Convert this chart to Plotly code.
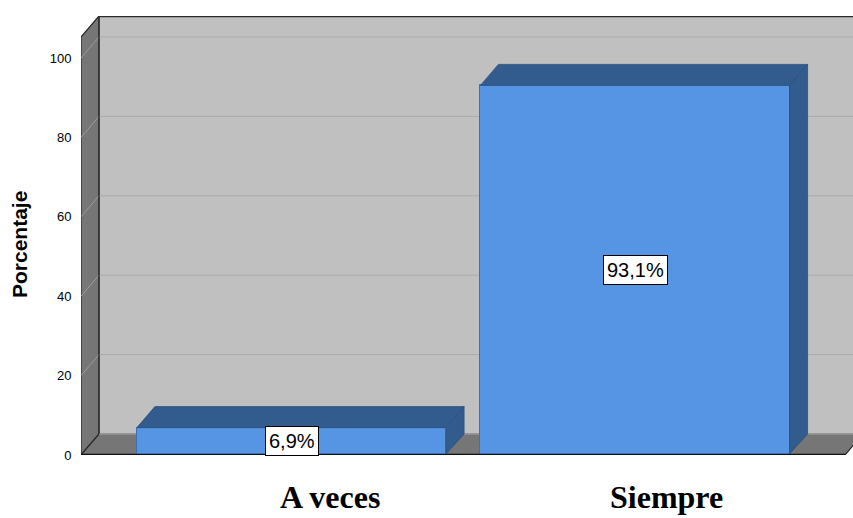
import plotly.graph_objects as go

# ---- data ----
categories = ["A veces", "Siempre"]
values = [6.9, 93.1]
value_labels = ["6,9%", "93,1%"]
y_ticks = [0, 20, 40, 60, 80, 100]
y_title = "Porcentaje"

# ---- geometry (pixels -> data units) ----
W, H = 853, 518
ml, mr, mt, mb = 81, 0, 16, 63
plot_w = W - ml - mr
plot_h = H - mt - mb
px_per_y = 3.97
px_per_x = 343.5
y_top = plot_h / px_per_y
x_left = -(291.5 - ml) / px_per_x
x_right = 1 + (W - 635) / px_per_x
DX = 18 / px_per_x
DY = 21 / px_per_y
bar_w = 0.9
x_floor_right = 1 + (845 - 635) / px_per_x

FRONT = "#5595E4"
DARK = "#335C8E"
WALL = "#C0C0C0"
SIDE = "#767676"
GRID = "#ABABAB"
SIDE_GRID = "#9C9C9C"

xs = list(range(len(categories)))

fig = go.Figure()
fig.add_trace(go.Bar(
    x=xs, y=values, width=bar_w,
    marker=dict(color=FRONT, line=dict(color="#3E6FAE", width=1)),
    hoverinfo="skip", showlegend=False,
))

shapes = []
# back wall
shapes.append(dict(type="rect", xref="x", yref="y", layer="below",
                   x0=x_left + DX, x1=x_right + 0.1, y0=DY, y1=y_top + 1,
                   fillcolor=WALL, line=dict(width=0)))
# side wall
shapes.append(dict(type="path", xref="x", yref="y", layer="below",
                   path=f"M{x_left},0 L{x_left},{y_top-DY} L{x_left+DX},{y_top} L{x_left+DX},{DY} Z",
                   fillcolor=SIDE, line=dict(color="#2A2A2A", width=1.2)))
# floor
shapes.append(dict(type="path", xref="x", yref="y", layer="below",
                   path=f"M{x_left},0 L{x_left+DX},{DY} L{x_floor_right+DX},{DY} L{x_floor_right},0 Z",
                   fillcolor=SIDE, line=dict(color="#2A2A2A", width=1.2)))
# gridlines
for v in y_ticks:
    shapes.append(dict(type="line", xref="x", yref="y", layer="below",
                       x0=x_left + DX, x1=x_right + 0.1, y0=v + DY, y1=v + DY,
                       line=dict(color=GRID if v > 0 else "#A2A2A2", width=1.5 if v == 0 else 1)))
    if v > 0:
        shapes.append(dict(type="line", xref="x", yref="y", layer="below",
                           x0=x_left, x1=x_left + DX, y0=v, y1=v + DY,
                           line=dict(color=SIDE_GRID, width=1)))
# back wall top & left borders
shapes.append(dict(type="line", xref="x", yref="y", layer="below",
                   x0=x_left + DX, x1=x_right + 0.1, y0=y_top - 0.1, y1=y_top - 0.1,
                   line=dict(color="#2A2A2A", width=1.5)))
shapes.append(dict(type="line", xref="x", yref="y", layer="below",
                   x0=x_left + DX, x1=x_left + DX, y0=DY, y1=y_top,
                   line=dict(color="#2A2A2A", width=1.2)))
# front floor edge
shapes.append(dict(type="line", xref="x", yref="y", layer="above",
                   x0=x_left, x1=x_floor_right, y0=0.1, y1=0.1,
                   line=dict(color="#111111", width=1.5)))

# 3D faces of bars
for x, v in zip(xs, values):
    l, r = x - bar_w / 2, x + bar_w / 2
    shapes.append(dict(type="path", xref="x", yref="y", layer="above",
                       path=f"M{l},{v} L{l+DX},{v+DY} L{r+DX},{v+DY} L{r},{v} Z",
                       fillcolor=DARK, line=dict(color="#2B4E7A", width=0.8)))
    shapes.append(dict(type="path", xref="x", yref="y", layer="above",
                       path=f"M{r},0.3 L{r},{v} L{r+DX},{v+DY} L{r+DX},{DY} Z",
                       fillcolor=DARK, line=dict(color="#2B4E7A", width=0.8)))

annotations = []
for x, v, t in zip(xs, values, value_labels):
    annotations.append(dict(x=x, y=v / 2, xref="x", yref="y", text=t, showarrow=False,
                            font=dict(family="Liberation Sans, Arial", size=20, color="black"),
                            bgcolor="white", bordercolor="black", borderwidth=1, borderpad=3))
label_shifts = [38, 31]
for x, c, s in zip(xs, categories, label_shifts):
    annotations.append(dict(x=x, y=0, xref="x", yref="paper", text=c, showarrow=False,
                            xshift=s, yshift=-42, yanchor="middle", xanchor="center",
                            font=dict(family="Liberation Serif, Times New Roman", size=32,
                                      color="black", weight="bold")))
annotations.append(dict(x=(19 - ml) / plot_w, y=(455 - 245) / plot_h, xref="paper", yref="paper",
                        text=y_title, textangle=-90, showarrow=False,
                        xanchor="center", yanchor="middle",
                        font=dict(family="Liberation Sans, Arial", size=21, color="black",
                                  weight="bold")))

fig.update_layout(
    width=W, height=H,
    margin=dict(l=ml, r=mr, t=mt, b=mb, pad=0),
    paper_bgcolor="white", plot_bgcolor="white",
    shapes=shapes, annotations=annotations,
    xaxis=dict(range=[x_left, x_right], showticklabels=False, showgrid=False,
               zeroline=False, showline=False, ticks="", fixedrange=True),
    yaxis=dict(range=[0, y_top], tickvals=y_ticks, showgrid=False, zeroline=False,
               showline=False, ticks="outside", ticklen=6, tickcolor="rgba(0,0,0,0)",
               tickfont=dict(family="Liberation Sans, Arial", size=13, color="black"),
               fixedrange=True),
    bargap=0,
)

fig.write_html("out.html")
